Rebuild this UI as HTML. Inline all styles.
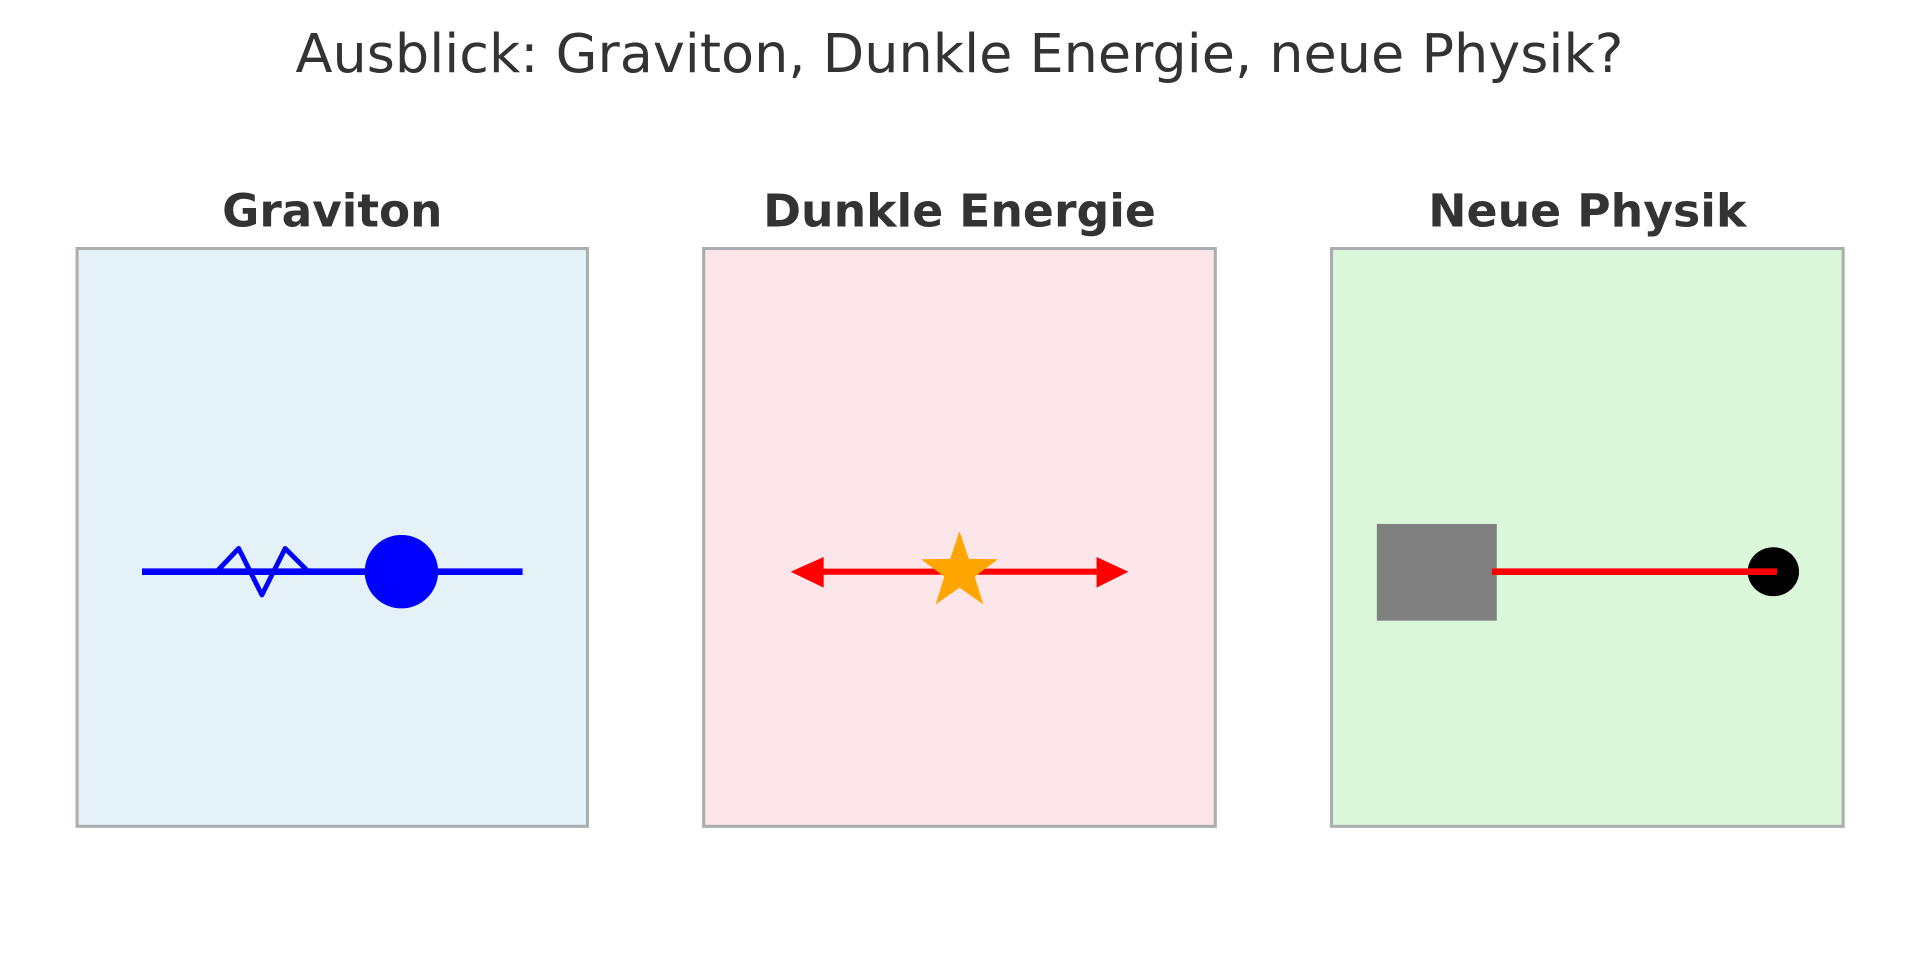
<!DOCTYPE html>
<html><head><meta charset="utf-8"><style>
html,body{margin:0;padding:0;background:#fff;}
svg{display:block;}
text{font-family:"DejaVu Sans","Liberation Sans",sans-serif;fill:#333;}
</style></head><body>
<svg width="1919" height="972" viewBox="0 0 1568 794" preserveAspectRatio="none">
<text x="784" y="59" text-anchor="middle" font-size="44" textLength="1085" lengthAdjust="spacingAndGlyphs">Ausblick: Graviton, Dunkle Energie, neue Physik?</text>

<g>
<text x="271.5" y="185" text-anchor="middle" font-size="37" font-weight="bold" textLength="180" lengthAdjust="spacingAndGlyphs">Graviton</text>
<rect x="63" y="203" width="417" height="472" fill="#e4f2f7" stroke="#aaaeae" stroke-width="2.5"/>
<line x1="116" y1="467" x2="427" y2="467" stroke="#0000ff" stroke-width="5.5"/>
<polyline points="177,467 195,448 214,486 233,448 252,467" fill="none" stroke="#0000ff" stroke-width="4" stroke-linejoin="round"/>
<circle cx="328" cy="467" r="30" fill="#0000ff"/>
</g>

<g>
<text x="784" y="185" text-anchor="middle" font-size="37" font-weight="bold" textLength="321" lengthAdjust="spacingAndGlyphs">Dunkle Energie</text>
<rect x="575" y="203" width="418" height="472" fill="#fde6e9" stroke="#aaaeae" stroke-width="2.5"/>
<line x1="672" y1="467" x2="896" y2="467" stroke="#ff0000" stroke-width="5"/>
<polygon points="646,467 673,455 673,480" fill="#ff0000"/>
<polygon points="922,467 896,455 896,480" fill="#ff0000"/>
<polygon id="star" fill="#ffa500"/>
</g>

<g>
<text x="1297" y="185" text-anchor="middle" font-size="37" font-weight="bold" textLength="260" lengthAdjust="spacingAndGlyphs">Neue Physik</text>
<rect x="1088" y="203" width="418" height="472" fill="#daf7da" stroke="#aaaeae" stroke-width="2.5"/>
<rect x="1125" y="428" width="98" height="79" fill="#808080"/>
<ellipse cx="1449" cy="467" rx="21" ry="20" fill="#000"/>
<line x1="1219" y1="467" x2="1452" y2="467" stroke="#ff0000" stroke-width="5.5"/>
</g>
</svg>
<script>
var starCenter=[784,467];
var starRadii=[33,13];
var pts=[];
for(var i=0;i<10;i++){var r=starRadii[i%2];var a=-Math.PI/2+i*Math.PI/5;pts.push((starCenter[0]+r*Math.cos(a)).toFixed(1)+','+(starCenter[1]+r*Math.sin(a)).toFixed(1));}
document.getElementById('star').setAttribute('points',pts.join(' '));
</script>
</body></html>
